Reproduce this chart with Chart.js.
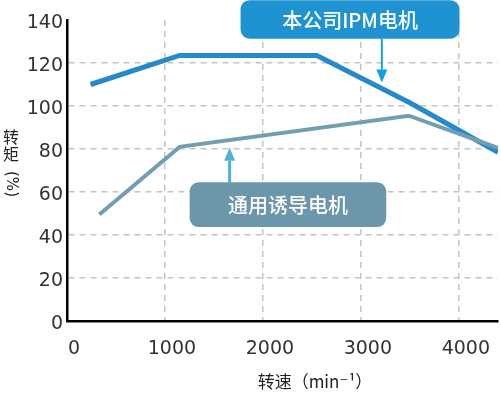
<!DOCTYPE html>
<html>
<head>
<meta charset="utf-8">
<script src="https://cdn.jsdelivr.net/npm/chart.js@4.4.1/dist/chart.umd.min.js"></script>
<style>
  html, body { margin: 0; padding: 0; background: #fff; }
  #wrap { width: 501px; height: 394px; position: relative; }
</style>
</head>
<body>
<div id="wrap"><canvas id="c"></canvas></div>
<script>
// ---- data ----
const ipmSpeed = [240, 1150, 2550, 3500, 4400];
const ipmTorque = [110, 123.5, 123.5, 101.5, 78.5];
const imSpeed = [330, 1150, 3490, 4400];
const imTorque = [49.5, 81, 95.5, 80.5];
const seriesNames = ['本公司IPM电机', '通用诱导电机'];
const xTicks = [0, 1000, 2000, 3000, 4000];
const yTicks = [0, 20, 40, 60, 80, 100, 120, 140];
const xTitle = '转速（min⁻¹）';
const yTitleChars = ['转', '矩'];
const yTitleUnit = '(%)';

// callouts (data coordinates)
const callouts = [
  { text: seriesNames[0], x0: 1772, x1: 4007, y0: 131.3, y1: 149.2, fill: '#1f93d1',
    arrowX: 3214, arrowFrom: 131.3, arrowTo: 110.9, arrowColor: '#12a0e3', arrowW: 2 },
  { text: seriesNames[1], x0: 1252, x1: 3259, y0: 43.7, y1: 64.5, fill: '#6b96ab',
    arrowX: 1660, arrowFrom: 64.5, arrowTo: 80.6, arrowColor: '#4fb0da', arrowW: 3 }
];

const FONT = '"DejaVu Sans", "Noto Sans CJK SC", sans-serif';

const calloutPlugin = {
  id: 'callouts',
  afterDatasetsDraw(chart) {
    const ctx = chart.ctx, xs = chart.scales.x, ys = chart.scales.y;
    callouts.forEach(c => {
      const l = xs.getPixelForValue(c.x0), r = xs.getPixelForValue(c.x1);
      const t = ys.getPixelForValue(c.y1), b = ys.getPixelForValue(c.y0);
      const ax = xs.getPixelForValue(c.arrowX);
      const aFrom = ys.getPixelForValue(c.arrowFrom), aTo = ys.getPixelForValue(c.arrowTo);
      ctx.save();
      const dir = aTo > aFrom ? 1 : -1;
      const headLen = 13, headW = 5.5;
      ctx.strokeStyle = c.arrowColor; ctx.fillStyle = c.arrowColor;
      ctx.lineWidth = c.arrowW;
      ctx.beginPath(); ctx.moveTo(ax, aFrom); ctx.lineTo(ax, aTo - dir * headLen); ctx.stroke();
      ctx.beginPath(); ctx.moveTo(ax, aTo); ctx.lineTo(ax - headW, aTo - dir * headLen);
      ctx.lineTo(ax + headW, aTo - dir * headLen); ctx.closePath(); ctx.fill();
      ctx.fillStyle = c.fill;
      ctx.beginPath(); ctx.roundRect(l, t, r - l, b - t, 9); ctx.fill();
      ctx.fillStyle = '#ffffff';
      ctx.font = '500 20px "Noto Sans CJK SC", "DejaVu Sans", sans-serif';
      ctx.textAlign = 'center'; ctx.textBaseline = 'middle';
      ctx.fillText(c.text, (l + r) / 2, (t + b) / 2 + 1);
      ctx.restore();
    });
  },
  afterDraw(chart) {
    const ctx = chart.ctx;
    ctx.save();
    ctx.fillStyle = '#222';
    ctx.textAlign = 'center'; ctx.textBaseline = 'middle';
    ctx.font = '16px "Noto Sans CJK SC", sans-serif';
    ctx.fillText(yTitleChars[0], 11, 137);
    ctx.fillText(yTitleChars[1], 11, 154);
    ctx.save();
    ctx.translate(11, 184);
    ctx.rotate(Math.PI / 2);
    ctx.font = '15px ' + FONT;
    ctx.fillText(yTitleUnit, 0, 0);
    ctx.restore();
    ctx.font = '17px "Noto Sans CJK SC", "DejaVu Sans", sans-serif';
    ctx.fillText(xTitle, 315, 382);
    ctx.restore();
  }
};

new Chart(document.getElementById('c'), {
  type: 'line',
  data: {
    datasets: [
      { label: seriesNames[1], data: imSpeed.map((x, i) => ({ x, y: imTorque[i] })),
        borderColor: '#729eb4', borderWidth: 4, pointRadius: 0, tension: 0, fill: false },
      { label: seriesNames[0], data: ipmSpeed.map((x, i) => ({ x, y: ipmTorque[i] })),
        borderColor: '#2689c9', borderWidth: 5, pointRadius: 0, tension: 0, fill: false }
    ]
  },
  options: {
    responsive: true,
    maintainAspectRatio: false,
    animation: false,
    events: [],
    layout: { padding: { top: 20, right: 3, left: 0, bottom: 0 } },
    plugins: { legend: { display: false }, tooltip: { enabled: false } },
    scales: {
      x: {
        type: 'linear', min: 0, max: 4400,
        afterBuildTicks(s) { s.ticks = xTicks.map(v => ({ value: v })); },
        afterFit(s) { s.height = 73; },
        grid: {
          drawTicks: false, lineWidth: 1.5,
          color: ctx => (ctx.tick && ctx.tick.value === 0) ? 'rgba(0,0,0,0)' : '#c4c4c4'
        },
        border: { display: true, color: '#000', width: 2.5, dash: [6, 5] },
        ticks: { color: '#333', padding: 17, maxRotation: 0, labelOffset: 7, callback: v => String(v),
                 font: { family: FONT, size: 19, weight: 'normal' } }
      },
      y: {
        type: 'linear', min: 0, max: 140,
        afterBuildTicks(s) { s.ticks = yTicks.map(v => ({ value: v })); },
        afterFit(s) { s.width = 67; },
        grid: {
          drawTicks: false, lineWidth: 1.5,
          color: ctx => (ctx.tick && (ctx.tick.value === 0 || ctx.tick.value === 140)) ? 'rgba(0,0,0,0)' : '#c4c4c4'
        },
        border: { display: true, color: '#000', width: 2.5, dash: [6, 5] },
        ticks: { color: '#333', padding: 4, labelOffset: 3, callback: v => String(v),
                 font: { family: FONT, size: 19, weight: 'normal' } }
      }
    }
  },
  plugins: [calloutPlugin]
});
</script>
</body>
</html>
